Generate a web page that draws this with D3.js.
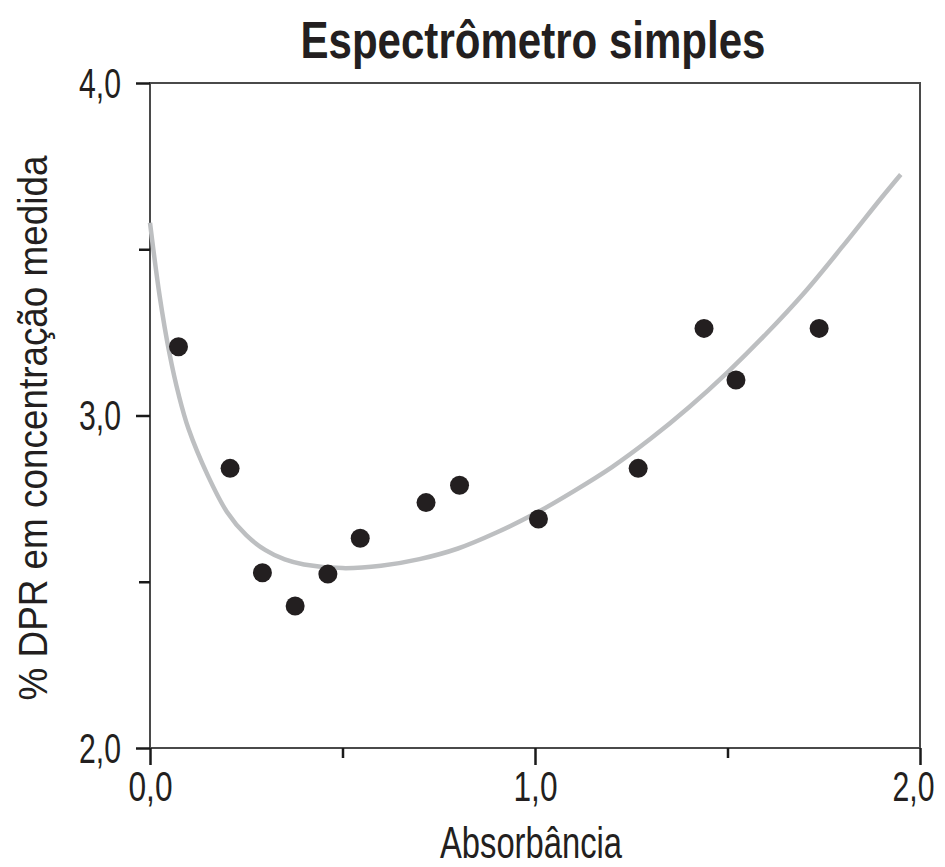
<!DOCTYPE html>
<html><head><meta charset="utf-8">
<script src="https://cdn.jsdelivr.net/npm/d3@7"></script>
<style>
html,body{margin:0;padding:0;background:#fff;}
svg text{font-family:"Liberation Sans Narrow","Liberation Sans",Arial,sans-serif;}
</style></head>
<body>
<script>
// ---- data ----
const title = "Espectrômetro simples";
const xLabel = "Absorbância";
const yLabel = "% DPR em concentração medida";
const pointX = [0.074, 0.208, 0.292, 0.377, 0.462, 0.546, 0.717, 0.804, 1.009, 1.268, 1.439, 1.522, 1.738];
const pointY = [3.207, 2.841, 2.527, 2.427, 2.523, 2.631, 2.738, 2.790, 2.689, 2.841, 3.262, 3.107, 3.262];
const curveX = [0.0, 0.025, 0.05, 0.075, 0.10, 0.15, 0.20, 0.25, 0.30, 0.35, 0.40, 0.50, 0.60, 0.70, 0.80, 0.90, 1.00, 1.10, 1.20, 1.30, 1.40, 1.50, 1.60, 1.70, 1.80, 1.90, 1.95];
const curveY = [3.58, 3.36, 3.19, 3.06, 2.96, 2.82, 2.71, 2.64, 2.595, 2.567, 2.552, 2.541, 2.548, 2.568, 2.60, 2.648, 2.705, 2.772, 2.845, 2.93, 3.025, 3.13, 3.245, 3.37, 3.51, 3.655, 3.725];
const xMajor = [0, 1, 2];
const xMinor = [0.5, 1.5];
const yMajor = [2, 3, 4];
const yMinor = [2.5, 3.5];
const fmt = v => v.toFixed(1).replace(".", ",");

// ---- layout ----
const W = 945, H = 867;
const m = {left: 150, right: 25, top: 83, bottom: 119};
const iw = W - m.left - m.right, ih = H - m.top - m.bottom;

const svg = d3.select("body").append("svg").attr("width", W).attr("height", H);
const g = svg.append("g").attr("transform", `translate(${m.left},${m.top})`);

const x = d3.scaleLinear().domain([0, 2]).range([0, iw]);
const y = d3.scaleLinear().domain([2, 4]).range([ih, 0]);

// frame
g.append("rect").attr("x", 0).attr("y", 0).attr("width", iw).attr("height", ih)
  .attr("fill", "none").attr("stroke", "#4a4a4a").attr("stroke-width", 2);

// x axis ticks
const xa = g.append("g").attr("transform", `translate(0,${ih})`);
xa.call(d3.axisBottom(x).tickValues(xMajor).tickSize(17).tickSizeOuter(0).tickFormat(fmt));
xa.select(".domain").remove();
xa.selectAll(".tick line").attr("stroke", "#1a1a1a").attr("stroke-width", 2.5);
xa.selectAll(".tick text").attr("font-size", 43).attr("fill", "#231f20")
  .attr("y", 22).attr("dy", "0.72em").attr("textLength", 44).attr("lengthAdjust", "spacingAndGlyphs");
// keep the last label inside the page edge
xa.selectAll(".tick text").filter(d => d === 2).attr("text-anchor", "end").attr("x", 14).attr("textLength", 42);
const xm = g.append("g").attr("transform", `translate(0,${ih})`);
xm.call(d3.axisBottom(x).tickValues(xMinor).tickSize(10).tickFormat(""));
xm.select(".domain").remove();
xm.selectAll(".tick line").attr("stroke", "#1a1a1a").attr("stroke-width", 2.5);

// y axis ticks
const ya = g.append("g");
ya.call(d3.axisLeft(y).tickValues(yMajor).tickSize(14).tickSizeOuter(0).tickFormat(fmt));
ya.select(".domain").remove();
ya.selectAll(".tick line").attr("stroke", "#1a1a1a").attr("stroke-width", 2.5);
ya.selectAll(".tick text").attr("font-size", 43).attr("fill", "#231f20")
  .attr("x", -29).attr("dy", "0.33em").attr("textLength", 42).attr("lengthAdjust", "spacingAndGlyphs");
const ym = g.append("g");
ym.call(d3.axisLeft(y).tickValues(yMinor).tickSize(11).tickFormat(""));
ym.select(".domain").remove();
ym.selectAll(".tick line").attr("stroke", "#1a1a1a").attr("stroke-width", 2.5);

// curve
const curveData = curveX.map((v, i) => [v, curveY[i]]);
g.append("path").datum(curveData)
  .attr("fill", "none").attr("stroke", "#bdbfc1").attr("stroke-width", 4.5)
  .attr("d", d3.line().x(d => x(d[0])).y(d => y(d[1])).curve(d3.curveCatmullRom.alpha(0.5)));

// points
g.selectAll("circle.pt").data(pointX.map((v, i) => [v, pointY[i]])).join("circle")
  .attr("class", "pt").attr("cx", d => x(d[0])).attr("cy", d => y(d[1])).attr("r", 9.5)
  .attr("fill", "#231f20");

// title
svg.append("text").attr("x", 533).attr("y", 58).attr("text-anchor", "middle")
  .attr("font-size", 52).attr("font-weight", "bold").attr("fill", "#231f20")
  .attr("textLength", 465).attr("lengthAdjust", "spacingAndGlyphs").text(title);

// x label
svg.append("text").attr("x", 531).attr("y", 858).attr("text-anchor", "middle")
  .attr("font-size", 45).attr("fill", "#231f20")
  .attr("textLength", 182).attr("lengthAdjust", "spacingAndGlyphs").text(xLabel);

// y label
svg.append("text").attr("transform", "translate(47,428) rotate(-90)").attr("text-anchor", "middle")
  .attr("font-size", 41).attr("fill", "#231f20")
  .attr("textLength", 545).attr("lengthAdjust", "spacingAndGlyphs").text(yLabel);
</script>
</body></html>
